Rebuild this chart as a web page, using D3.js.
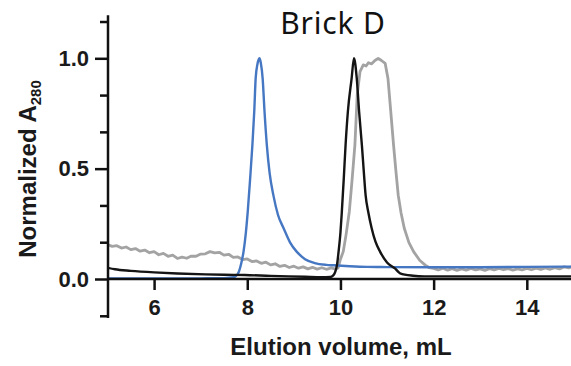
<!DOCTYPE html>
<html>
<head>
<meta charset="utf-8">
<script src="https://cdn.jsdelivr.net/npm/d3@7"></script>
<style>
  body { margin: 0; background: #fff; }
  svg { display: block; }
  .tickLabel { font-family: "Liberation Sans", Arial, sans-serif; font-weight: bold; font-size: 22px; fill: #1a1a1a; }
  .axisText { font-family: "Liberation Sans", Arial, sans-serif; font-weight: bold; font-size: 24px; fill: #1a1a1a; }
</style>
</head>
<body>
<div id="chart"></div>
<script>
// Brick D elution profiles
var chartTitle = "Brick D";

var xTicks = [6, 8, 10, 12, 14];
var yTicks = [0.0, 0.5, 1.0];
var yMinorTicks = [-1/6, 1/6, 1/3, 2/3, 5/6, 7/6];

// blue trace
var blueX = [5.0, 6.0, 7.0, 7.5, 7.7, 7.75, 7.82, 7.87, 7.92, 7.97, 8.01, 8.06, 8.11, 8.15, 8.18, 8.22, 8.26, 8.29, 8.33, 8.37, 8.42, 8.48, 8.56, 8.66, 8.78, 8.92, 9.06, 9.24, 9.45, 9.7, 9.85, 10.2, 10.57, 11.0, 12.0, 13.0, 14.0, 15.0];
var blueY = [0.002, 0.002, 0.003, 0.004, 0.008, 0.012, 0.033, 0.07, 0.124, 0.21, 0.305, 0.45, 0.607, 0.76, 0.909, 0.975, 1.0, 0.98, 0.909, 0.76, 0.607, 0.48, 0.38, 0.29, 0.23, 0.165, 0.124, 0.09, 0.072, 0.064, 0.062, 0.058, 0.055, 0.054, 0.053, 0.053, 0.055, 0.056];

// black trace
var blackX = [5.0, 5.16, 5.5, 6.0, 6.5, 7.1, 7.5, 7.95, 8.5, 9.24, 9.6, 9.78, 9.84, 9.89, 9.93, 9.96, 10.0, 10.03, 10.07, 10.11, 10.16, 10.24, 10.29, 10.35, 10.4, 10.46, 10.5, 10.54, 10.6, 10.67, 10.75, 10.85, 11.0, 11.17, 11.28, 11.56, 11.8, 12.5, 13.5, 15.0];
var blackY = [0.051, 0.044, 0.037, 0.03, 0.025, 0.021, 0.019, 0.018, 0.014, 0.01, 0.008, 0.009, 0.015, 0.033, 0.07, 0.124, 0.21, 0.305, 0.45, 0.607, 0.76, 0.909, 1.0, 0.909, 0.76, 0.607, 0.49, 0.38, 0.3, 0.23, 0.17, 0.124, 0.075, 0.048, 0.026, 0.015, 0.012, 0.012, 0.012, 0.012];

// grey trace
var greyX = [5.0, 5.1, 5.2, 5.3, 5.4, 5.5, 5.6, 5.7, 5.8, 5.9, 6.0, 6.1, 6.2, 6.3, 6.4, 6.5, 6.6, 6.7, 6.8, 6.9, 7.0, 7.1, 7.2, 7.3, 7.4, 7.5, 7.6, 7.7, 7.8, 7.9, 8.0, 8.1, 8.2, 8.3, 8.4, 8.5, 8.6, 8.7, 8.8, 8.9, 9.0, 9.1, 9.2, 9.3, 9.4, 9.5, 9.6, 9.7, 9.8, 9.9, 9.95,
  10.0, 10.06, 10.12, 10.19, 10.25, 10.31, 10.36, 10.42, 10.49, 10.55, 10.6, 10.67, 10.74, 10.81, 10.88, 10.96, 11.02, 11.08, 11.14, 11.19, 11.24, 11.3, 11.37, 11.47, 11.57, 11.7, 11.82, 11.9, 12.0,
  12.1, 12.2, 12.3, 12.4, 12.5, 12.6, 12.7, 12.8, 12.9, 13.0, 13.1, 13.2, 13.3, 13.4, 13.5, 13.6, 13.7, 13.8, 13.9, 14.0, 14.1, 14.2, 14.3, 14.4, 14.5, 14.6, 14.7, 14.8, 14.9, 15.0];
var greyY = [0.156, 0.148, 0.151, 0.140, 0.145, 0.133, 0.138, 0.126, 0.131, 0.119, 0.124, 0.110, 0.116, 0.103, 0.108, 0.093, 0.099, 0.094, 0.104, 0.103, 0.113, 0.114, 0.124, 0.118, 0.121, 0.108, 0.112, 0.098, 0.100, 0.088, 0.091, 0.079, 0.082, 0.071, 0.076, 0.064, 0.069, 0.057, 0.062, 0.052, 0.058, 0.049, 0.055, 0.046, 0.053, 0.045, 0.051, 0.044, 0.050, 0.045, 0.05,
  0.09, 0.124, 0.2, 0.305, 0.45, 0.607, 0.834, 0.94, 0.97, 0.965, 0.98, 0.975, 0.99, 1.0, 0.99, 0.977, 0.909, 0.758, 0.607, 0.49, 0.38, 0.3, 0.23, 0.165, 0.124, 0.085, 0.063, 0.052, 0.048,
  0.041, 0.049, 0.040, 0.047, 0.039, 0.046, 0.040, 0.048, 0.041, 0.046, 0.039, 0.047, 0.041, 0.048, 0.042, 0.047, 0.040, 0.046, 0.041, 0.048, 0.042, 0.049, 0.043, 0.050, 0.044, 0.051, 0.046, 0.055, 0.050, 0.058];

var svgWidth = 571;
var svgHeight = 366;

var svg = d3.select("#chart")
  .append("svg")
  .attr("width", svgWidth)
  .attr("height", svgHeight);

var xScale = d3.scaleLinear()
  .domain([5, 15])
  .range([107.5, 573.4]);

var yScale = d3.scaleLinear()
  .domain([0, 1])
  .range([279, 58.3]);

function toPoints(xs, ys) {
  return xs.map(function(x, i) { return [x, ys[i]]; });
}

var smoothLine = d3.line()
  .x(d => xScale(d[0]))
  .y(d => yScale(d[1]))
  .curve(d3.curveMonotoneX);

var roughLine = d3.line()
  .x(d => xScale(d[0]))
  .y(d => yScale(d[1]));

svg.append("clipPath")
  .attr("id", "plotClip")
  .append("rect")
  .attr("x", 108)
  .attr("y", 0)
  .attr("width", svgWidth - 108)
  .attr("height", 300);

var plot = svg.append("g").attr("clip-path", "url(#plotClip)");

// traces, grey first so the others sit on top
plot.append("path")
  .datum(toPoints(greyX, greyY))
  .attr("d", roughLine)
  .attr("fill", "none")
  .attr("stroke", "#a3a3a3")
  .attr("stroke-width", 2.8)
  .attr("stroke-linejoin", "round");

plot.append("path")
  .datum(toPoints(blueX, blueY))
  .attr("d", smoothLine)
  .attr("fill", "none")
  .attr("stroke", "#4677c2")
  .attr("stroke-width", 2.4);

plot.append("path")
  .datum(toPoints(blackX, blackY))
  .attr("d", smoothLine)
  .attr("fill", "none")
  .attr("stroke", "#141414")
  .attr("stroke-width", 2.4);

// x axis sits at y = 0
var bottomAxis = d3.axisBottom(xScale)
  .tickValues(xTicks)
  .tickSize(11)
  .tickPadding(9)
  .tickFormat(d3.format("d"));

var xAxisG = svg.append("g")
  .attr("transform", `translate(0, ${yScale(0)})`)
  .call(bottomAxis);
xAxisG.select(".domain").remove();
xAxisG.append("line")
  .attr("x1", 108).attr("x2", svgWidth)
  .attr("stroke", "#111").attr("stroke-width", 2.5);
xAxisG.selectAll(".tick line").attr("stroke", "#111").attr("stroke-width", 2.5);
xAxisG.selectAll(".tick text").attr("class", "tickLabel").attr("fill", null).attr("font-size", null).attr("font-family", null);

// y axis: major labelled ticks and minor ticks
var leftAxis = d3.axisLeft(yScale)
  .tickValues(yTicks)
  .tickSize(13)
  .tickPadding(6)
  .tickFormat(d3.format(".1f"));

var yAxisG = svg.append("g")
  .attr("transform", "translate(108, 0)")
  .call(leftAxis);
yAxisG.select(".domain").remove();
yAxisG.selectAll(".tick line").attr("stroke", "#111").attr("stroke-width", 2.5);
yAxisG.selectAll(".tick text").attr("class", "tickLabel").attr("fill", null).attr("font-size", null).attr("font-family", null);

var minorAxis = d3.axisLeft(yScale)
  .tickValues(yMinorTicks)
  .tickSize(8)
  .tickFormat("");

var yMinorG = svg.append("g")
  .attr("transform", "translate(108, 0)")
  .call(minorAxis);
yMinorG.select(".domain").remove();
yMinorG.selectAll(".tick line").attr("stroke", "#111").attr("stroke-width", 2.5);

yAxisG.append("line")
  .attr("y1", yScale(1.195)).attr("y2", yScale(-0.177))
  .attr("stroke", "#111").attr("stroke-width", 2.5);

// labels
svg.append("text")
  .attr("class", "axisText")
  .attr("x", 341)
  .attr("y", 355)
  .attr("text-anchor", "middle")
  .text("Elution volume, mL");

var yLabel = svg.append("text")
  .attr("class", "axisText")
  .attr("transform", "translate(36, 169) rotate(-90)")
  .attr("text-anchor", "middle");
yLabel.append("tspan").text("Normalized A");
yLabel.append("tspan").attr("dy", 5).attr("font-size", "15px").text("280");

svg.append("text")
  .attr("x", 333)
  .attr("y", 34)
  .attr("text-anchor", "middle")
  .attr("font-family", "'Noto Sans', sans-serif")
  .attr("font-size", "30px")
  .attr("letter-spacing", "0.8px")
  .attr("fill", "#111")
  .text(chartTitle);
</script>
</body>
</html>
